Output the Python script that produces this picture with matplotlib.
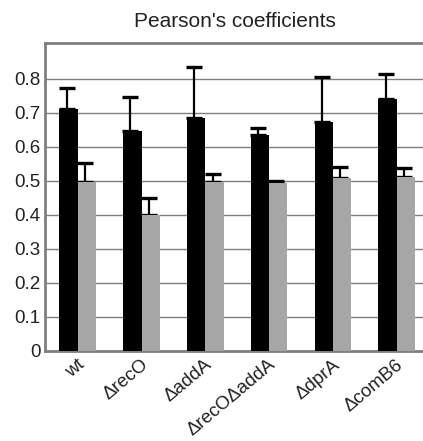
import numpy as np
import matplotlib.pyplot as plt
import matplotlib.transforms as mtransforms

strains = ["wt", "\u0394recO", "\u0394addA", "\u0394recO\u0394addA", "\u0394dprA", "\u0394comB6"]
black_vals = [0.710, 0.647, 0.685, 0.633, 0.673, 0.741]
black_err = [0.062, 0.098, 0.150, 0.022, 0.132, 0.073]
grey_vals = [0.497, 0.399, 0.497, 0.494, 0.509, 0.512]
grey_err = [0.056, 0.051, 0.022, 0.006, 0.031, 0.024]
yticks = [0, 0.1, 0.2, 0.3, 0.4, 0.5, 0.6, 0.7, 0.8]
ytick_labels = ["0", "0.1", "0.2", "0.3", "0.4", "0.5", "0.6", "0.7", "0.8"]


def main():
    plt.rcParams["font.family"] = ["Liberation Sans", "DejaVu Sans"]
    fig = plt.figure(figsize=(4.23, 4.41), dpi=100)
    ax = fig.add_axes([0.1064, 0.2048, 0.8936, 0.6977])

    x = np.arange(len(strains))
    w = 0.287
    ax.bar(x - w / 2, black_vals, w, color="black", zorder=3)
    ax.bar(x + w / 2, grey_vals, w, color="#a6a6a6", zorder=3)
    ax.errorbar(x - w / 2 - 0.03, black_vals, yerr=[np.zeros(len(x)), black_err],
                fmt="none", ecolor="black", elinewidth=1.6, capsize=5.5, capthick=2.4, zorder=2)
    ax.errorbar(x + w / 2 - 0.03, grey_vals, yerr=[np.zeros(len(x)), grey_err],
                fmt="none", ecolor="black", elinewidth=1.6, capsize=5.5, capthick=2.4, zorder=2)

    ax.set_xlim(-0.513, 5.412)
    ax.set_ylim(0, 0.905)
    ax.set_yticks(yticks)
    ax.set_yticklabels(ytick_labels, fontsize=13.5, color="#222222")
    ax.yaxis.grid(True, color="#7f7f7f", linewidth=1.0, zorder=0)
    ax.set_axisbelow(True)
    ax.tick_params(axis="y", length=0, pad=3)
    ax.tick_params(axis="x", length=0, pad=4)

    ax.set_xticks(x)
    labels = ax.set_xticklabels(strains, rotation=40, ha="right", va="top",
                                rotation_mode="anchor", fontsize=13.5, color="#222222")
    offset = mtransforms.ScaledTranslation(-1 / 100, 0, fig.dpi_scale_trans)
    for lab in labels:
        lab.set_transform(lab.get_transform() + offset)

    ax.spines["right"].set_visible(False)
    for side in ["top", "left", "bottom"]:
        ax.spines[side].set_color("#7f7f7f")
        ax.spines[side].set_linewidth(2.0)

    fig.text(0.555, 0.952, "Pearson's coefficients", ha="center", va="center",
             fontsize=15, color="#222222")

    fig.savefig("out.png", dpi=100)


if __name__ == '__main__':
    main()
